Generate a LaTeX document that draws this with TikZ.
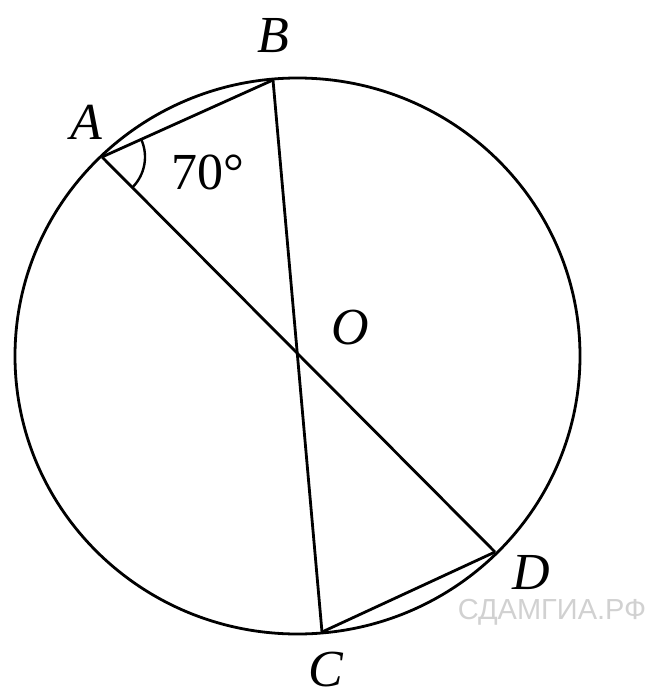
\documentclass[tikz,border=0pt]{standalone}
\usepackage{fontspec}
\setmainfont{Liberation Serif}
\newfontfamily\wmfont{Liberation Sans}
\begin{document}
\begin{tikzpicture}[x=0.5pt,y=-0.5pt,
  lbl/.style={font=\fontsize{26}{30}\selectfont\itshape, inner sep=0pt},
  ln/.style={line width=1.4pt}]
\useasboundingbox (0,0) rectangle (652,696);
\draw[ln] (297.5,356) ellipse [x radius=282.5, y radius=278];
\coordinate (A) at (102,157);
\coordinate (B) at (273,80);
\coordinate (C) at (322,632);
\coordinate (D) at (495,552);
\draw[ln] (A) -- (D);
\draw[ln] (B) -- (C);
\draw[ln] (A) -- (B);
\draw[ln] (C) -- (D);
\draw[line width=1.2pt] ([shift={(24:21.5pt)}]A) arc[start angle=24, end angle=-45, radius=21.5pt];
\node[lbl] (lA) at (86,122) {A};
\node[lbl] (lB) at (273,36) {B};
\node[lbl] (lO) at (350,328) {O};
\node[lbl] (lD) at (531,573) {D};
\node[lbl] (lC) at (326,670) {C};
\node[font=\fontsize{26}{30}\selectfont, inner sep=0pt] (ang) at (208,172) {70°};
\node[font=\wmfont\fontsize{14.5}{16}\selectfont, text=black!18, inner sep=0pt] (wm) at (552,612) {СДАМГИА.РФ};
\end{tikzpicture}
\end{document}
